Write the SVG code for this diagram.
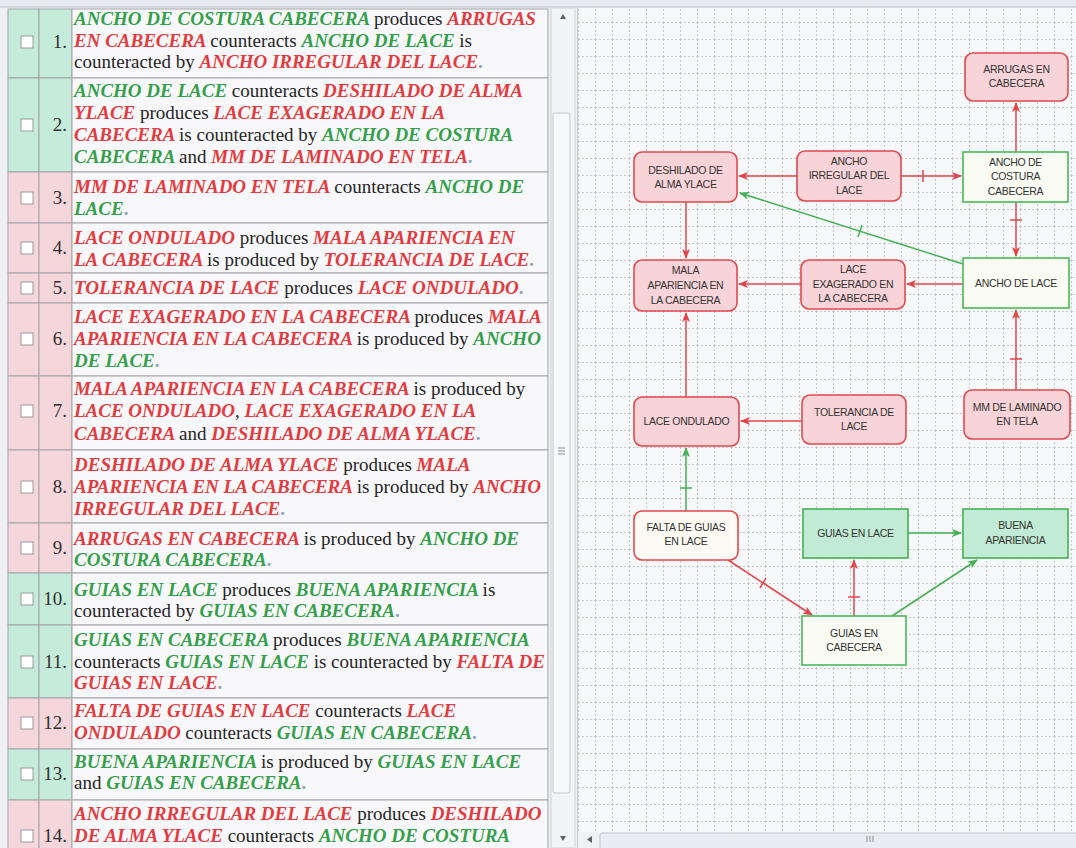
<svg xmlns="http://www.w3.org/2000/svg" width="1076" height="848" viewBox="0 0 1076 848">
  <defs>
    <style>
      .tbl text { font-family: "Liberation Serif", "Times New Roman", serif; font-size: 19px; }
      .g { fill: #35a04b; font-weight: bold; font-style: italic; }
      .r { fill: #e33b40; font-weight: bold; font-style: italic; }
      .k { fill: #252525; font-weight: normal; font-style: normal; }
      .p { fill: #8fa2b4; font-weight: bold; }
      .num { font-family: "Liberation Serif", serif; font-size: 17px; fill: #303030; text-anchor: end; }
      .cell { fill: #f8f8fa; stroke: #a3a3a8; stroke-width: 1; }
      .cg { fill: #c5ecda; stroke: #a3a3a8; stroke-width: 1; }
      .cr { fill: #f5d6da; stroke: #a3a3a8; stroke-width: 1; }
      .chk { fill: #ffffff; stroke: #9a9a9a; stroke-width: 1; }
      .nred { fill: #f8d3d8; stroke: #e04a4f; stroke-width: 1.6; }
      .nfalta { fill: #fdfaf4; stroke: #e04a4f; stroke-width: 1.6; }
      .ngw { fill: #fafbf2; stroke: #4cb85a; stroke-width: 1.6; }
      .ngf { fill: #c2ebd5; stroke: #43b052; stroke-width: 1.6; }
      .lbl { font-family: "Liberation Sans", Arial, sans-serif; font-size: 10.5px; fill: #333; text-anchor: middle; letter-spacing: -0.3px; }
      .er { stroke: #e2464b; stroke-width: 1.5; fill: none; }
      .eg { stroke: #45b055; stroke-width: 1.5; fill: none; }
    </style>
    <pattern id="grid" patternUnits="userSpaceOnUse" x="578" y="5" width="17" height="17">
      <path d="M0,0.5 H17 M0.5,0 V17" stroke="#c6c9cf" stroke-width="1" stroke-dasharray="2 2" fill="none"/>
    </pattern>
    <marker id="ar" viewBox="0 0 10 8" refX="9" refY="4" markerWidth="10" markerHeight="8" markerUnits="userSpaceOnUse" orient="auto">
      <path d="M0,0 L10,4 L0,8 L2.5,4 z" fill="#e2464b"/>
    </marker>
    <marker id="ag" viewBox="0 0 10 8" refX="9" refY="4" markerWidth="10" markerHeight="8" markerUnits="userSpaceOnUse" orient="auto">
      <path d="M0,0 L10,4 L0,8 L2.5,4 z" fill="#45b055"/>
    </marker>
  </defs>

  <!-- window background and toolbar strip -->
  <rect x="0" y="0" width="1076" height="848" fill="#eef0f3"/>
  <rect x="0" y="0" width="1076" height="7" fill="#e6e9ee"/>
  <line x1="0" y1="7" x2="1076" y2="7" stroke="#b9bcc2"/>

  <!-- statements table -->
  <g class="tbl" id="table">
    <g id="row1">
      <rect class="cg" x="8" y="9" width="31" height="69"/><rect class="cg" x="39" y="9" width="33" height="69"/><rect class="cell" x="72" y="9" width="476" height="69"/>
      <rect class="chk" x="21" y="36" width="12" height="12"/><text class="num" x="67" y="48">1.</text>
      <text x="74" y="25"><tspan class="g">ANCHO DE COSTURA CABECERA </tspan><tspan class="k">produces </tspan><tspan class="r">ARRUGAS</tspan></text>
      <text x="74" y="47"><tspan class="r">EN CABECERA </tspan><tspan class="k">counteracts </tspan><tspan class="g">ANCHO DE LACE </tspan><tspan class="k">is</tspan></text>
      <text x="74" y="68"><tspan class="k">counteracted by </tspan><tspan class="r">ANCHO IRREGULAR DEL LACE</tspan><tspan class="p">.</tspan></text>
    </g>
    <g id="row2">
      <rect class="cg" x="8" y="78" width="31" height="94"/><rect class="cg" x="39" y="78" width="33" height="94"/><rect class="cell" x="72" y="78" width="476" height="94"/>
      <rect class="chk" x="21" y="119" width="12" height="12"/><text class="num" x="67" y="131">2.</text>
      <text x="74" y="97"><tspan class="g">ANCHO DE LACE </tspan><tspan class="k">counteracts </tspan><tspan class="r">DESHILADO DE ALMA</tspan></text>
      <text x="74" y="119"><tspan class="r">YLACE </tspan><tspan class="k">produces </tspan><tspan class="r">LACE EXAGERADO EN LA</tspan></text>
      <text x="74" y="141"><tspan class="r">CABECERA </tspan><tspan class="k">is counteracted by </tspan><tspan class="g">ANCHO DE COSTURA</tspan></text>
      <text x="74" y="163"><tspan class="g">CABECERA </tspan><tspan class="k">and </tspan><tspan class="r">MM DE LAMINADO EN TELA</tspan><tspan class="p">.</tspan></text>
    </g>
    <g id="row3">
      <rect class="cr" x="8" y="172" width="31" height="51"/><rect class="cr" x="39" y="172" width="33" height="51"/><rect class="cell" x="72" y="172" width="476" height="51"/>
      <rect class="chk" x="21" y="192" width="12" height="12"/><text class="num" x="67" y="204">3.</text>
      <text x="74" y="193"><tspan class="r">MM DE LAMINADO EN TELA </tspan><tspan class="k">counteracts </tspan><tspan class="g">ANCHO DE</tspan></text>
      <text x="74" y="215"><tspan class="g">LACE</tspan><tspan class="p">.</tspan></text>
    </g>
    <g id="row4">
      <rect class="cr" x="8" y="223" width="31" height="50"/><rect class="cr" x="39" y="223" width="33" height="50"/><rect class="cell" x="72" y="223" width="476" height="50"/>
      <rect class="chk" x="21" y="242" width="12" height="12"/><text class="num" x="67" y="254">4.</text>
      <text x="74" y="244"><tspan class="r">LACE ONDULADO </tspan><tspan class="k">produces </tspan><tspan class="r">MALA APARIENCIA EN</tspan></text>
      <text x="74" y="266"><tspan class="r">LA CABECERA </tspan><tspan class="k">is produced by </tspan><tspan class="r">TOLERANCIA DE LACE</tspan><tspan class="p">.</tspan></text>
    </g>
    <g id="row5">
      <rect class="cr" x="8" y="273" width="31" height="30"/><rect class="cr" x="39" y="273" width="33" height="30"/><rect class="cell" x="72" y="273" width="476" height="30"/>
      <rect class="chk" x="21" y="282" width="12" height="12"/><text class="num" x="67" y="294">5.</text>
      <text x="74" y="294"><tspan class="r">TOLERANCIA DE LACE </tspan><tspan class="k">produces </tspan><tspan class="r">LACE ONDULADO</tspan><tspan class="p">.</tspan></text>
    </g>
    <g id="row6">
      <rect class="cr" x="8" y="303" width="31" height="73"/><rect class="cr" x="39" y="303" width="33" height="73"/><rect class="cell" x="72" y="303" width="476" height="73"/>
      <rect class="chk" x="21" y="333" width="12" height="12"/><text class="num" x="67" y="345">6.</text>
      <text x="74" y="323"><tspan class="r">LACE EXAGERADO EN LA CABECERA </tspan><tspan class="k">produces </tspan><tspan class="r">MALA</tspan></text>
      <text x="74" y="345"><tspan class="r">APARIENCIA EN LA CABECERA </tspan><tspan class="k">is produced by </tspan><tspan class="g">ANCHO</tspan></text>
      <text x="74" y="367"><tspan class="g">DE LACE</tspan><tspan class="p">.</tspan></text>
    </g>
    <g id="row7">
      <rect class="cr" x="8" y="376" width="31" height="74"/><rect class="cr" x="39" y="376" width="33" height="74"/><rect class="cell" x="72" y="376" width="476" height="74"/>
      <rect class="chk" x="21" y="405" width="12" height="12"/><text class="num" x="67" y="417">7.</text>
      <text x="74" y="395"><tspan class="r">MALA APARIENCIA EN LA CABECERA </tspan><tspan class="k">is produced by</tspan></text>
      <text x="74" y="417"><tspan class="r">LACE ONDULADO</tspan><tspan class="k">, </tspan><tspan class="r">LACE EXAGERADO EN LA</tspan></text>
      <text x="74" y="440"><tspan class="r">CABECERA </tspan><tspan class="k">and </tspan><tspan class="r">DESHILADO DE ALMA YLACE</tspan><tspan class="p">.</tspan></text>
    </g>
    <g id="row8">
      <rect class="cr" x="8" y="450" width="31" height="73"/><rect class="cr" x="39" y="450" width="33" height="73"/><rect class="cell" x="72" y="450" width="476" height="73"/>
      <rect class="chk" x="21" y="481" width="12" height="12"/><text class="num" x="67" y="493">8.</text>
      <text x="74" y="471"><tspan class="r">DESHILADO DE ALMA YLACE </tspan><tspan class="k">produces </tspan><tspan class="r">MALA</tspan></text>
      <text x="74" y="493"><tspan class="r">APARIENCIA EN LA CABECERA </tspan><tspan class="k">is produced by </tspan><tspan class="r">ANCHO</tspan></text>
      <text x="74" y="515"><tspan class="r">IRREGULAR DEL LACE</tspan><tspan class="p">.</tspan></text>
    </g>
    <g id="row9">
      <rect class="cr" x="8" y="523" width="31" height="50"/><rect class="cr" x="39" y="523" width="33" height="50"/><rect class="cell" x="72" y="523" width="476" height="50"/>
      <rect class="chk" x="21" y="542" width="12" height="12"/><text class="num" x="67" y="554">9.</text>
      <text x="74" y="545"><tspan class="r">ARRUGAS EN CABECERA </tspan><tspan class="k">is produced by </tspan><tspan class="g">ANCHO DE</tspan></text>
      <text x="74" y="566"><tspan class="g">COSTURA CABECERA</tspan><tspan class="p">.</tspan></text>
    </g>
    <g id="row10">
      <rect class="cg" x="8" y="573" width="31" height="52"/><rect class="cg" x="39" y="573" width="33" height="52"/><rect class="cell" x="72" y="573" width="476" height="52"/>
      <rect class="chk" x="21" y="593" width="12" height="12"/><text class="num" x="67" y="605">10.</text>
      <text x="74" y="596"><tspan class="g">GUIAS EN LACE </tspan><tspan class="k">produces </tspan><tspan class="g">BUENA APARIENCIA </tspan><tspan class="k">is</tspan></text>
      <text x="74" y="617"><tspan class="k">counteracted by </tspan><tspan class="g">GUIAS EN CABECERA</tspan><tspan class="p">.</tspan></text>
    </g>
    <g id="row11">
      <rect class="cg" x="8" y="625" width="31" height="73"/><rect class="cg" x="39" y="625" width="33" height="73"/><rect class="cell" x="72" y="625" width="476" height="73"/>
      <rect class="chk" x="21" y="656" width="12" height="12"/><text class="num" x="67" y="668">11.</text>
      <text x="74" y="646"><tspan class="g">GUIAS EN CABECERA </tspan><tspan class="k">produces </tspan><tspan class="g">BUENA APARIENCIA</tspan></text>
      <text x="74" y="668"><tspan class="k">counteracts </tspan><tspan class="g">GUIAS EN LACE </tspan><tspan class="k">is counteracted by </tspan><tspan class="r">FALTA DE</tspan></text>
      <text x="74" y="689"><tspan class="r">GUIAS EN LACE</tspan><tspan class="p">.</tspan></text>
    </g>
    <g id="row12">
      <rect class="cr" x="8" y="698" width="31" height="51"/><rect class="cr" x="39" y="698" width="33" height="51"/><rect class="cell" x="72" y="698" width="476" height="51"/>
      <rect class="chk" x="21" y="717" width="12" height="12"/><text class="num" x="67" y="729">12.</text>
      <text x="74" y="717"><tspan class="r">FALTA DE GUIAS EN LACE </tspan><tspan class="k">counteracts </tspan><tspan class="r">LACE</tspan></text>
      <text x="74" y="739"><tspan class="r">ONDULADO </tspan><tspan class="k">counteracts </tspan><tspan class="g">GUIAS EN CABECERA</tspan><tspan class="p">.</tspan></text>
    </g>
    <g id="row13">
      <rect class="cg" x="8" y="749" width="31" height="51"/><rect class="cg" x="39" y="749" width="33" height="51"/><rect class="cell" x="72" y="749" width="476" height="51"/>
      <rect class="chk" x="21" y="768" width="12" height="12"/><text class="num" x="67" y="780">13.</text>
      <text x="74" y="768"><tspan class="g">BUENA APARIENCIA </tspan><tspan class="k">is produced by </tspan><tspan class="g">GUIAS EN LACE</tspan></text>
      <text x="74" y="789"><tspan class="k">and </tspan><tspan class="g">GUIAS EN CABECERA</tspan><tspan class="p">.</tspan></text>
    </g>
    <g id="row14">
      <rect class="cr" x="8" y="800" width="31" height="70"/><rect class="cr" x="39" y="800" width="33" height="70"/><rect class="cell" x="72" y="800" width="476" height="70"/>
      <rect class="chk" x="21" y="830" width="12" height="12"/><text class="num" x="67" y="842">14.</text>
      <text x="74" y="820"><tspan class="r">ANCHO IRREGULAR DEL LACE </tspan><tspan class="k">produces </tspan><tspan class="r">DESHILADO</tspan></text>
      <text x="74" y="842"><tspan class="r">DE ALMA YLACE </tspan><tspan class="k">counteracts </tspan><tspan class="g">ANCHO DE COSTURA</tspan></text>
    </g>
  </g>

  <!-- vertical scrollbar of the table -->
  <g id="vscroll">
    <rect x="551" y="8" width="24" height="840" fill="#f3f4f6" stroke="#d0d2d6"/>
    <path d="M560,19 L563,14 L566,19 z" fill="#606060"/>
    <rect x="553" y="113" width="17" height="680" rx="2" fill="#f7f8fa" stroke="#c4c7cc"/>
    <path d="M558,448 H565 M558,451 H565 M558,454 H565" stroke="#8a8d92" stroke-width="1"/>
    <path d="M560,836 L563,841 L566,836 z" fill="#606060"/>
  </g>

  <!-- diagram canvas -->
  <rect x="578" y="8" width="498" height="824" fill="#f7f8fa"/>
  <rect x="578" y="8" width="498" height="824" fill="url(#grid)"/>
  <line x1="577.5" y1="8" x2="577.5" y2="848" stroke="#c8cbd0"/>

  <!-- horizontal scrollbar of the canvas -->
  <g id="hscroll">
    <rect x="578" y="832" width="498" height="16" fill="#f0f1f3"/>
    <path d="M592,836 L587,839.5 L592,843 z" fill="#606060"/>
    <rect x="600" y="833" width="480" height="16" rx="2" fill="#e9ecf0" stroke="#c4c7cc"/>
    <path d="M867,836 V842 M870,836 V842 M873,836 V842" stroke="#8a8d92" stroke-width="1"/>
  </g>

  <!-- connectors -->
  <g id="connectors">
    <line class="er" x1="797" y1="176" x2="739" y2="176" marker-end="url(#ar)"/>
    <line class="er" x1="901" y1="176" x2="961" y2="176" marker-end="url(#ar)"/>
    <line class="er" x1="923" y1="170" x2="923" y2="182"/>
    <line class="er" x1="1016" y1="152" x2="1016" y2="103" marker-end="url(#ar)"/>
    <line class="er" x1="1016" y1="202" x2="1016" y2="256" marker-end="url(#ar)"/>
    <line class="er" x1="1010" y1="220" x2="1022" y2="220"/>
    <line class="eg" x1="963" y1="264" x2="740" y2="193" marker-end="url(#ag)"/>
    <line class="eg" x1="858" y1="237" x2="862" y2="225"/>
    <line class="er" x1="686" y1="202" x2="686" y2="258" marker-end="url(#ar)"/>
    <line class="er" x1="801" y1="284" x2="739" y2="284" marker-end="url(#ar)"/>
    <line class="er" x1="963" y1="284" x2="907" y2="284" marker-end="url(#ar)"/>
    <line class="er" x1="1016" y1="390" x2="1016" y2="310" marker-end="url(#ar)"/>
    <line class="er" x1="1010" y1="359" x2="1022" y2="359"/>
    <line class="er" x1="686" y1="397" x2="686" y2="313" marker-end="url(#ar)"/>
    <line class="er" x1="802" y1="421" x2="741" y2="421" marker-end="url(#ar)"/>
    <line class="eg" x1="686" y1="511" x2="686" y2="448" marker-end="url(#ag)"/>
    <line class="eg" x1="680" y1="488" x2="692" y2="488"/>
    <line class="er" x1="728" y1="560" x2="812" y2="615" marker-end="url(#ar)"/>
    <line class="er" x1="766" y1="578" x2="760" y2="588"/>
    <line class="er" x1="854" y1="616" x2="854" y2="560" marker-end="url(#ar)"/>
    <line class="er" x1="848" y1="597" x2="860" y2="597"/>
    <line class="eg" x1="908" y1="533" x2="961" y2="533" marker-end="url(#ag)"/>
    <line class="eg" x1="892" y1="616" x2="977" y2="560" marker-end="url(#ag)"/>
  </g>

  <!-- nodes -->
  <g id="arrugas-en-cabecera">
    <rect class="nred" x="965" y="53" width="103" height="48" rx="8"/>
    <text class="lbl" x="1016.5" y="73">ARRUGAS EN</text><text class="lbl" x="1016.5" y="87">CABECERA</text>
  </g>
  <g id="deshilado-de-alma-ylace">
    <rect class="nred" x="634" y="152" width="103" height="50" rx="8"/>
    <text class="lbl" x="685.5" y="174">DESHILADO DE</text><text class="lbl" x="685.5" y="188">ALMA YLACE</text>
  </g>
  <g id="ancho-irregular-del-lace">
    <rect class="nred" x="797" y="151" width="104" height="50" rx="8"/>
    <text class="lbl" x="849" y="165">ANCHO</text><text class="lbl" x="849" y="179">IRREGULAR DEL</text><text class="lbl" x="849" y="194">LACE</text>
  </g>
  <g id="ancho-de-costura-cabecera">
    <rect class="ngw" x="963" y="152" width="105" height="50"/>
    <text class="lbl" x="1015.5" y="166">ANCHO DE</text><text class="lbl" x="1015.5" y="180">COSTURA</text><text class="lbl" x="1015.5" y="195">CABECERA</text>
  </g>
  <g id="mala-apariencia-en-la-cabecera">
    <rect class="nred" x="634" y="260" width="103" height="51" rx="8"/>
    <text class="lbl" x="685.5" y="274">MALA</text><text class="lbl" x="685.5" y="289">APARIENCIA EN</text><text class="lbl" x="685.5" y="304">LA CABECERA</text>
  </g>
  <g id="lace-exagerado-en-la-cabecera">
    <rect class="nred" x="801" y="260" width="104" height="49" rx="8"/>
    <text class="lbl" x="853" y="273">LACE</text><text class="lbl" x="853" y="288">EXAGERADO EN</text><text class="lbl" x="853" y="302">LA CABECERA</text>
  </g>
  <g id="ancho-de-lace">
    <rect class="ngw" x="963" y="258" width="106" height="50"/>
    <text class="lbl" x="1016" y="287">ANCHO DE LACE</text>
  </g>
  <g id="lace-ondulado">
    <rect class="nred" x="634" y="397" width="105" height="49" rx="8"/>
    <text class="lbl" x="686.5" y="425">LACE ONDULADO</text>
  </g>
  <g id="tolerancia-de-lace">
    <rect class="nred" x="802" y="395" width="104" height="49" rx="8"/>
    <text class="lbl" x="854" y="416">TOLERANCIA DE</text><text class="lbl" x="854" y="430">LACE</text>
  </g>
  <g id="mm-de-laminado-en-tela">
    <rect class="nred" x="964" y="390" width="106" height="49" rx="8"/>
    <text class="lbl" x="1017" y="411">MM DE LAMINADO</text><text class="lbl" x="1017" y="425">EN TELA</text>
  </g>
  <g id="falta-de-guias-en-lace">
    <rect class="nfalta" x="634" y="511" width="104" height="49" rx="8"/>
    <text class="lbl" x="686" y="531">FALTA DE GUIAS</text><text class="lbl" x="686" y="545">EN LACE</text>
  </g>
  <g id="guias-en-lace">
    <rect class="ngf" x="803" y="509" width="105" height="49"/>
    <text class="lbl" x="855.5" y="537">GUIAS EN LACE</text>
  </g>
  <g id="buena-apariencia">
    <rect class="ngf" x="963" y="509" width="105" height="49"/>
    <text class="lbl" x="1015.5" y="529">BUENA</text><text class="lbl" x="1015.5" y="544">APARIENCIA</text>
  </g>
  <g id="guias-en-cabecera">
    <rect class="ngw" x="802" y="616" width="104" height="49"/>
    <text class="lbl" x="854" y="637">GUIAS EN</text><text class="lbl" x="854" y="651">CABECERA</text>
  </g>
</svg>
